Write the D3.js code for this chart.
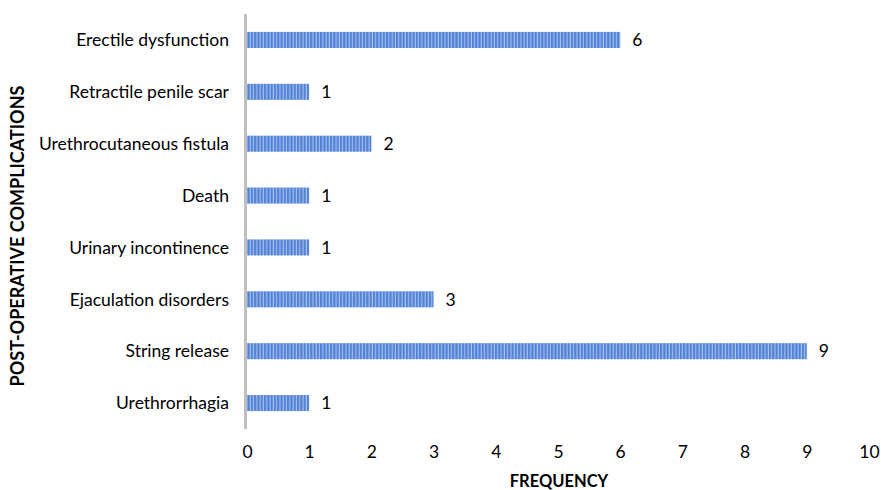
<!DOCTYPE html>
<html>
<head>
<meta charset="utf-8">
<script src="https://cdn.jsdelivr.net/npm/d3@7"></script>
<style>
  html, body { margin: 0; padding: 0; background: #fff; }
  svg { display: block; }
  text { font-family: Lato, "Open Sans", sans-serif; fill: #000; }
</style>
</head>
<body>
<svg id="chart" width="881" height="490"></svg>
<script>
// Post-operative complications and how often each occurred
const categories = [
  "Erectile dysfunction",
  "Retractile penile scar",
  "Urethrocutaneous fistula",
  "Death",
  "Urinary incontinence",
  "Ejaculation disorders",
  "String release",
  "Urethrorrhagia"
];
const frequencies = [6, 1, 2, 1, 1, 3, 9, 1];
const xTicks = [0, 1, 2, 3, 4, 5, 6, 7, 8, 9, 10];

const FONT = 'Lato, "Open Sans", sans-serif';
const svg = d3.select("#chart");
const plotLeft = 247, plotRight = 869, plotTop = 14, plotBottom = 429;

const x = d3.scaleLinear().domain([0, 10]).range([plotLeft, plotRight]);
const y = d3.scaleBand().domain(categories).range([plotTop, plotBottom]).paddingInner(0.69).paddingOuter(0.345);

// vertical stripe fill for the bars
const defs = svg.append("defs");
const pat = defs.append("pattern")
  .attr("id", "stripes")
  .attr("patternUnits", "userSpaceOnUse")
  .attr("width", 3.3).attr("height", 10);
pat.append("rect").attr("width", 3.3).attr("height", 10).attr("fill", "#5282d6");
pat.append("rect").attr("x", 2.2).attr("width", 1.1).attr("height", 10).attr("fill", "#a9c1ee");

// bars
svg.append("g").selectAll("rect")
  .data(categories)
  .join("rect")
  .attr("x", x(0))
  .attr("y", d => y(d))
  .attr("width", (d, i) => x(frequencies[i]) - x(0))
  .attr("height", y.bandwidth())
  .attr("fill", "url(#stripes)");

// value labels
svg.append("g").selectAll("text")
  .data(categories)
  .join("text")
  .attr("x", (d, i) => x(frequencies[i]) + 12)
  .attr("y", d => y(d) + y.bandwidth() / 2)
  .attr("dy", "0.36em")
  .attr("font-size", 17.5)
  .text((d, i) => frequencies[i]);

// category labels
svg.append("g").selectAll("text")
  .data(categories)
  .join("text")
  .attr("x", 229)
  .attr("y", d => y(d) + y.bandwidth() / 2)
  .attr("dy", "0.36em")
  .attr("text-anchor", "end")
  .attr("font-size", 17.5)
  .text(d => d);

// category axis line
svg.append("line")
  .attr("x1", x(0) - 1.5).attr("x2", x(0) - 1.5)
  .attr("y1", plotTop).attr("y2", plotBottom)
  .attr("stroke", "#bfbfbf").attr("stroke-width", 3);

// frequency axis tick labels
const xAxis = d3.axisBottom(x).tickValues(xTicks).tickSize(0).tickPadding(0);
const gx = svg.append("g").attr("transform", `translate(0, 446)`).call(xAxis);
gx.select(".domain").remove();
gx.selectAll("text")
  .attr("font-size", 17.5)
  .attr("font-family", FONT)
  .attr("fill", "#000")
  .attr("dy", "0.71em");

// axis titles
svg.append("text")
  .attr("x", 559).attr("y", 487)
  .attr("text-anchor", "middle")
  .attr("font-size", 16.5).attr("font-weight", "bold")
  .text("FREQUENCY");

svg.append("text")
  .attr("transform", "translate(24, 236) rotate(-90)")
  .attr("text-anchor", "middle")
  .attr("font-size", 18).attr("font-weight", "bold")
  .text("POST-OPERATIVE COMPLICATIONS");
</script>
</body>
</html>
